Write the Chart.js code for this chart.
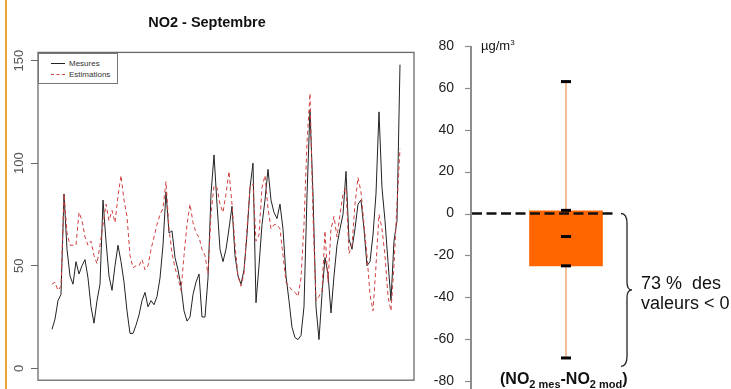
<!DOCTYPE html>
<html>
<head>
<meta charset="utf-8">
<script src="https://cdn.jsdelivr.net/npm/chart.js@4/dist/chart.umd.min.js"></script>
<style>
  body { margin: 0; background: #fff; font-family: "Liberation Sans", Arial, sans-serif; }
  #page { position: relative; width: 731px; height: 389px; overflow: hidden; background: #fff; }
  canvas { position: absolute; top: 0; }
  #serie { left: 0; }
  #ecart { left: 420px; }
  .txt { position: absolute; color: #111; white-space: nowrap; }
  #cadre { position: absolute; left: 5px; top: 0; width: 2px; height: 389px; background: #eba53a; }
  #legende { position: absolute; left: 38px; top: 53px; width: 78px; height: 29px; border: 1px solid #777; background: #fff; font-size: 8px; color: #333; }
  .leg { position: absolute; left: 12px; height: 10px; }
  .leg span { display: inline-block; width: 14px; vertical-align: middle; margin-right: 4px; }
</style>
</head>
<body>
<div id="page">
  <canvas id="serie" width="420" height="389"></canvas>
  <canvas id="ecart" width="311" height="389"></canvas>
  <div id="cadre"></div>
  <div id="legende">
    <div class="leg" style="top:5px"><span style="border-top:1px solid #222"></span>Mesures</div>
    <div class="leg" style="top:16px"><span style="border-top:1px dashed #d04040"></span>Estimations</div>
  </div>
  <div class="txt" style="left:481px; top:38px; font-size:13px;">µg/m<sup style="font-size:8px">3</sup></div>
  <div class="txt" style="left:641px; top:273px; font-size:18px; line-height:20px;">73 %&nbsp; des<br>valeurs &lt; 0</div>
  <div class="txt" style="left:500px; top:370px; font-size:16px; font-weight:bold;">(NO<sub style="font-size:11px">2 mes</sub>-NO<sub style="font-size:11px">2 mod</sub>)</div>
</div>
<script>
// NO2 septembre : mesures et estimations (µg/m3)
var mesures = [19, 24, 33, 36, 85, 58, 45, 41, 52, 46,
  50, 53, 44, 30, 22, 33, 41, 82, 62, 45,
  38, 50, 60, 52, 42, 28, 17, 17, 21, 26,
  33, 37, 30, 33, 31, 35, 44, 60, 86, 66,
  67, 54, 48, 40, 28, 23, 25, 36, 42, 46,
  25, 25, 44, 85, 104, 80, 58, 52, 58, 68,
  79, 55, 45, 41, 48, 65, 88, 100, 32, 50,
  70, 82, 97, 82, 76, 73, 80, 68, 45, 33,
  20, 15, 14, 16, 30, 84, 126, 85, 30, 14,
  36, 54, 46, 27, 45, 60, 68, 75, 96, 63,
  58, 68, 80, 82, 68, 50, 52, 65, 85, 125,
  88, 72, 52, 33, 62, 72, 148];
var estimations = [41, 42, 38, 40, 85, 66, 60, 60, 60, 76,
  72, 64, 60, 62, 55, 51, 60, 70, 80, 72,
  77, 71, 84, 94, 82, 74, 55, 49, 50, 50,
  53, 48, 50, 58, 64, 70, 75, 78, 91, 68,
  56, 49, 44, 38, 55, 70, 80, 71, 66, 64,
  58, 55, 46, 75, 89, 88, 80, 76, 85, 96,
  80, 60, 45, 40, 46, 68, 88, 90, 62, 65,
  88, 94, 78, 68, 70, 70, 68, 55, 42, 40,
  38, 37, 35, 44, 70, 110, 134, 75, 33, 35,
  38, 67, 42, 68, 74, 64, 75, 85, 88, 56,
  60, 80, 93, 86, 70, 55, 36, 28, 50, 75,
  68, 55, 35, 28, 50, 80, 107];
var yTicksSerie = [0, 50, 100, 150];

// boite des ecarts mes - mod
var boite = [-25, 1.3];
var moustache = [-69, 63];
var reperes = [63, 1.5, -11, -25, -69];
var yTicksEcart = [80, 60, 40, 20, 0, -20, -40, -60, -80];

var police = '"Liberation Sans", Arial, sans-serif';

var cadrePlugin = {
    id: 'cadre',
    afterDraw: function(chart) {
        var a = chart.chartArea, ctx = chart.ctx;
        ctx.save();
        ctx.strokeStyle = '#6a6a6a';
        ctx.lineWidth = 1.3;
        ctx.strokeRect(a.left, a.top, a.right - a.left, a.bottom - a.top);
        ctx.restore();
    }
};

new Chart(document.getElementById('serie'), {
    type: 'line',
    data: {
        datasets: [{
            label: 'Estimations',
            data: estimations.map(function(v, i) { return {x: i, y: v}; }),
            borderColor: '#d04040',
            borderWidth: 1,
            borderDash: [4, 3],
            pointRadius: 0,
            tension: 0,
            order: 0
        }, {
            label: 'Mesures',
            data: mesures.map(function(v, i) { return {x: i, y: v}; }),
            borderColor: '#222',
            borderWidth: 1,
            pointRadius: 0,
            tension: 0,
            order: 1
        }]
    },
    options: {
        animation: false,
        responsive: false,
        layout: { padding: { right: 6, bottom: 5 } },
        plugins: {
            legend: { display: false },
            tooltip: { enabled: false },
            title: {
                display: true,
                text: 'NO2 - Septembre',
                color: '#111',
                font: { family: police, size: 14.5, weight: 'bold' },
                padding: { top: 14, bottom: 21 }
            }
        },
        scales: {
            x: { type: 'linear', display: false, min: -4.67, max: 120.67 },
            y: {
                min: -5.8, max: 154,
                afterFit: function(s) { s.width = 38; },
                afterBuildTicks: function(s) { s.ticks = yTicksSerie.map(function(v) { return {value: v}; }); },
                border: { display: false },
                grid: { drawOnChartArea: false, tickLength: 7, color: '#666' },
                ticks: {
                    minRotation: 90, maxRotation: 90,
                    crossAlign: 'center',
                    padding: 1,
                    color: '#555',
                    font: { family: police, size: 13 }
                }
            }
        }
    },
    plugins: [cadrePlugin]
});

// axe vertical gris + accolade des valeurs negatives
var accoladePlugin = {
    id: 'accolade',
    afterDraw: function(chart) {
        var ys = chart.scales.y, ctx = chart.ctx, a = chart.chartArea;
        ctx.save();
        ctx.setLineDash([]);
        ctx.strokeStyle = '#8c8c8c';
        ctx.lineWidth = 2;
        ctx.beginPath();
        ctx.moveTo(a.left - 1, a.top);
        ctx.lineTo(a.left - 1, chart.height);
        ctx.stroke();
        ctx.lineWidth = 1.2;
        ys.ticks.forEach(function(t) {
            var py = Math.round(ys.getPixelForValue(t.value)) + 0.5;
            ctx.beginPath();
            ctx.moveTo(a.left - 7, py);
            ctx.lineTo(a.left - 1, py);
            ctx.stroke();
        });

        var y0 = ys.getPixelForValue(0), y1 = ys.getPixelForValue(-73);
        var m = (y0 + y1) / 2;
        var x0 = a.left + 149, xm = x0 + 6, xt = x0 + 11;
        ctx.strokeStyle = '#222';
        ctx.lineWidth = 1.3;
        ctx.beginPath();
        ctx.moveTo(x0, y0);
        ctx.quadraticCurveTo(xm, y0, xm, y0 + 10);
        ctx.lineTo(xm, m - 8);
        ctx.quadraticCurveTo(xm, m, xt, m);
        ctx.quadraticCurveTo(xm, m, xm, m + 8);
        ctx.lineTo(xm, y1 - 10);
        ctx.quadraticCurveTo(xm, y1, x0, y1);
        ctx.stroke();
        ctx.restore();
    }
};

var xBoite = 97;
new Chart(document.getElementById('ecart'), {
    type: 'bar',
    data: {
        datasets: [{
            type: 'line',
            data: moustache.map(function(v) { return {x: xBoite, y: v}; }),
            borderColor: '#eeb080',
            borderWidth: 1.6,
            pointRadius: 0,
            order: 4
        }, {
            type: 'bar',
            data: [{x: xBoite, y: boite}],
            backgroundColor: '#ff6600',
            borderWidth: 0,
            barThickness: 73,
            grouped: false,
            order: 3
        }, {
            type: 'line',
            data: [{x: 0, y: 0}, {x: 148, y: 0}],
            borderColor: '#111',
            borderWidth: 2.7,
            borderDash: [10, 4.5],
            pointRadius: 0,
            order: 2
        }, {
            type: 'scatter',
            data: reperes.map(function(v) { return {x: xBoite, y: v}; }),
            pointStyle: 'line',
            pointRadius: 5,
            borderColor: '#000',
            borderWidth: 3,
            order: 1
        }]
    },
    options: {
        animation: false,
        responsive: false,
        layout: { padding: { top: 46, bottom: 3, left: 0, right: 0 } },
        plugins: { legend: { display: false }, tooltip: { enabled: false } },
        scales: {
            x: { type: 'linear', display: false, offset: false, min: 0, max: 259 },
            y: {
                min: -80, max: 80,
                afterFit: function(s) { s.width = 52; s.paddingTop = 0; s.paddingBottom = 0; },
                afterBuildTicks: function(s) { s.ticks = yTicksEcart.map(function(v) { return {value: v}; }); },
                border: { display: false },
                grid: { display: false },
                ticks: { padding: 10, color: '#222', font: { family: police, size: 14, lineHeight: 0.4 } }
            }
        }
    },
    plugins: [accoladePlugin]
});
</script>
</body>
</html>
